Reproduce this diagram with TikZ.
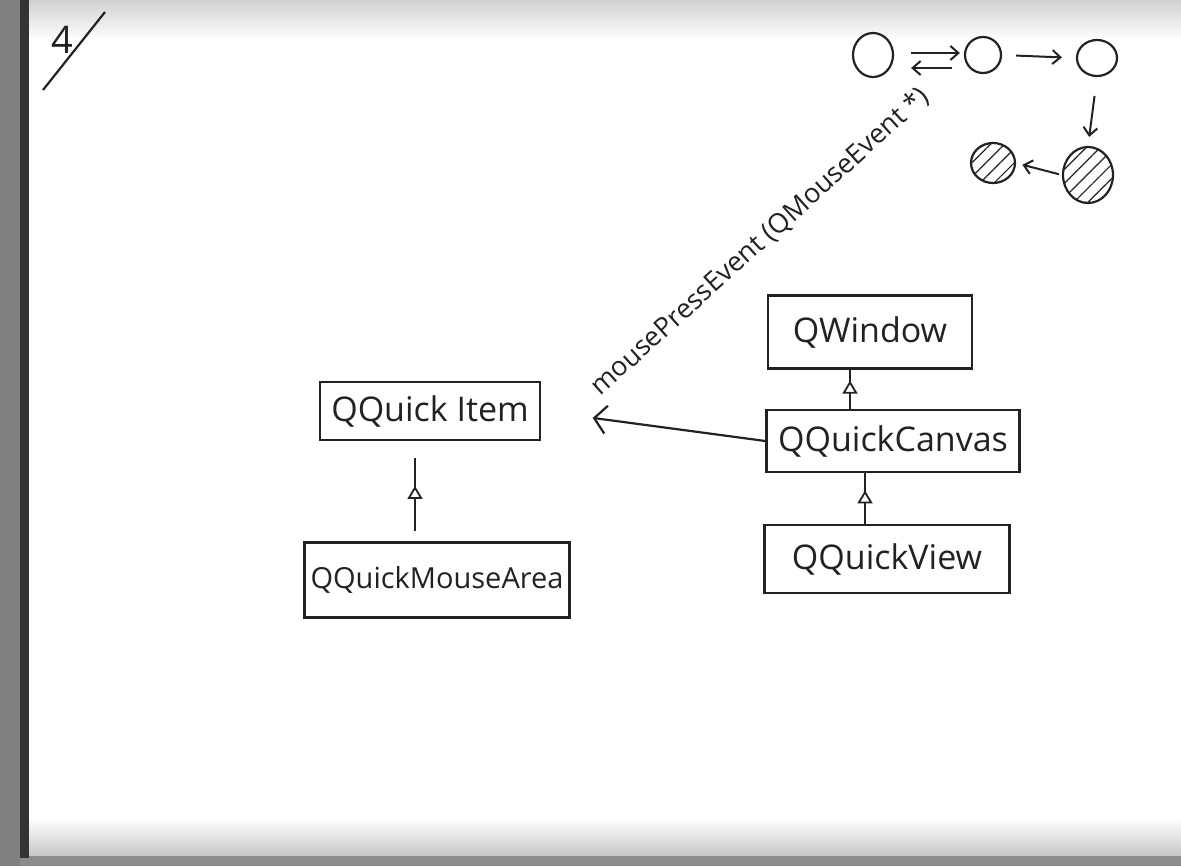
\documentclass[tikz,border=0pt]{standalone}
\usepackage{fontspec}
\setmainfont{Open Sans}
\usetikzlibrary{arrows.meta,decorations.markings,patterns.meta,shapes.geometric,calc}
\definecolor{ink}{HTML}{222222}
\tikzset{
  box/.style={draw=ink, line width=1.2pt, rectangle, inner sep=0pt, text=ink,
    font=\fontsize{17}{20}\selectfont},
  circ/.style={draw=ink, line width=1.1pt, ellipse, inner sep=0pt},
  hatched/.style={circ, pattern={Lines[angle=45,distance=5pt,line width=0.6pt]}, pattern color=ink},
  inherit/.style={draw=ink, line width=1.1pt, postaction={decorate},
    decoration={markings, mark=at position #1 with {\arrow{Triangle[fill=white,length=6.5pt,width=7.5pt,line width=0.9pt]}}}},
  callarrow/.style={draw=ink, line width=1.1pt, -{Straight Barb[length=6pt,width=14pt,line width=1.1pt]}},
  small/.style={draw=ink, line width=1pt, -{Straight Barb[length=4pt,width=7pt,line width=1pt]}},
}
\begin{document}
\begin{tikzpicture}[x=0.5pt,y=-0.5pt]
\useasboundingbox (0,0) rectangle (1181,866);
% paper and scan frame
\fill[white] (0,0) rectangle (1181,866);
\shade[top color=black!18, bottom color=white] (29,0) rectangle (1181,40);
\shade[top color=white, bottom color=black!22] (29,818) rectangle (1181,856);
\fill[black!45] (0,856) rectangle (1181,866);
\fill[black!50] (0,0) rectangle (20,866);
\fill[black!80] (20,0) rectangle (29,858);

% page number
\node[text=ink, font=\fontsize{19}{22}\selectfont, inner sep=0pt] (pnum) at (62,40) {4};
\coordinate (slashA) at (43,90);
\coordinate (slashB) at (105,12);
\draw[ink, line width=1.1pt] (slashA) -- (slashB);

% classes
\node[box, minimum width=110pt, minimum height=29pt] (item) at (430,411) {QQuick Item};
\node[box, minimum width=132.5pt, minimum height=37.5pt, font=\fontsize{14.5}{17}\selectfont] (mouse) at (437,580) {QQuickMouseArea};
\node[box, minimum width=102pt, minimum height=36.5pt] (window) at (870,332) {QWindow};
\node[box, minimum width=126.5pt, minimum height=31pt] (canvas) at (893,441) {QQuickCanvas};
\node[box, minimum width=122.5pt, minimum height=34pt] (view) at (887,559) {QQuickView};

% inheritance
\draw[inherit=0.62] ($(mouse.north)+(-22,-10)$) -- ($(item.south)+(-15,17)$);
\draw[inherit=0.72] ($(canvas.north)+(-43,0)$) -- ($(window.south)+(-20,0)$);
\draw[inherit=0.66] ($(view.north)+(-22,0)$) -- ($(canvas.south)+(-28,0)$);

% call
\draw[callarrow, shorten >=26pt] (canvas.west) -- (item.east);
\node[text=ink, font=\fontsize{13.5}{16}\selectfont, anchor=base west, rotate=42, inner sep=0pt]
  (lbl) at (600,397) {mousePressEvent (QMouseEvent *)};

% state sketch
\node[circ, minimum width=20pt, minimum height=22pt] (c1) at (873,55) {};
\node[circ, minimum width=18pt, minimum height=18pt] (c2) at (983,55) {};
\node[circ, minimum width=20pt, minimum height=18pt] (c3) at (1097,58) {};
\node[hatched, minimum width=22pt, minimum height=20pt] (c4) at (993,163) {};
\node[hatched, minimum width=25pt, minimum height=28pt] (c5) at (1088,175) {};
\draw[small, shorten <=8.5pt, shorten >=2pt] ([yshift=1pt]c1.east) -- ([yshift=1pt]c2.west);
\draw[small, shorten <=6pt, shorten >=8.5pt] ([yshift=-6.5pt]c2.west) -- ([yshift=-6.5pt]c1.east);
\draw[small, shorten <=7pt, shorten >=7pt] (c2.east) -- (c3.west);
\draw[small, shorten <=9.5pt, shorten >=4.5pt] (c3.south) -- (c5.north);
\draw[small, shorten <=1.5pt, shorten >=3.5pt] (c5.west) -- (c4.east);
\end{tikzpicture}
\end{document}
